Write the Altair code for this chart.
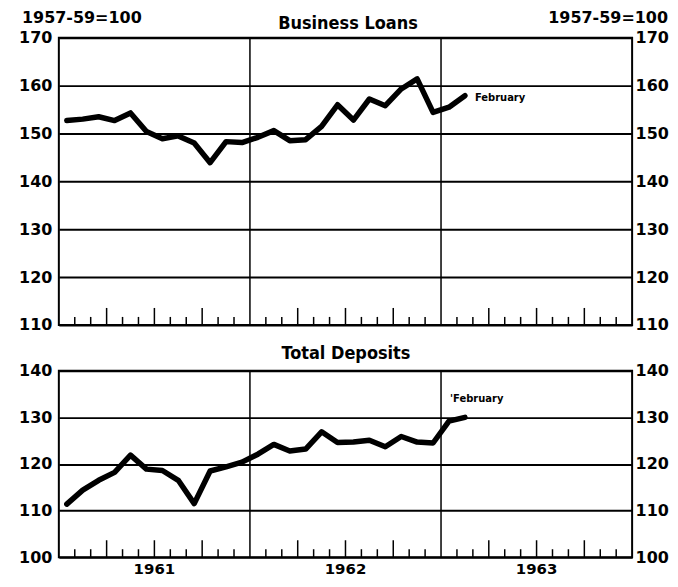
import altair as alt
import pandas as pd

# ---- data (monthly, Jan 1961 .. Feb 1963; index 1957-59 = 100) ----
month_index = list(range(26))
loans = [152.7, 153.0, 153.5, 152.7, 154.3, 150.4, 148.9, 149.5, 148.0, 143.9,
         148.3, 148.1, 149.2, 150.6, 148.5, 148.7, 151.5, 156.0, 152.8, 157.2,
         155.8, 159.3, 161.4, 154.4, 155.5, 157.9]
deposits = [111.4, 114.4, 116.5, 118.2, 121.9, 118.9, 118.6, 116.5, 111.5, 118.5,
            119.4, 120.4, 122.1, 124.2, 122.8, 123.2, 126.9, 124.6, 124.7, 125.1,
            123.7, 125.9, 124.7, 124.5, 129.2, 130.0]
loan_ticks = [110, 120, 130, 140, 150, 160, 170]
deposit_ticks = [100, 110, 120, 130, 140]
year_lines = [12, 24]
year_centers = [6, 18, 30]
year_names = ["1961", "1962", "1963"]
month_bounds = [k for k in range(1, 36) if k not in year_lines]
quarter_bounds = [k for k in month_bounds if k % 3 == 0]
plain_bounds = [k for k in month_bounds if k % 3 != 0]
base_label = ["1957-59=100"]
panel_titles = ["Business Loans", "Total Deposits"]
end_labels = ["February", "'February"]

W = 575
H1 = 288
H2 = 187
F = "DejaVu Sans"
TF = "DejaVu Sans Condensed"

xs = alt.Scale(domain=[0, 36], nice=False, zero=False)
X = alt.X("t:Q", scale=xs, axis=None)


def panel(values, ydom, yticks, H, title, title_x, title_y, end_label, ldx, ldy,
          headers, years):
    df = pd.DataFrame({"t": [m + 0.5 for m in month_index], "v": values})
    ys = alt.Scale(domain=ydom, nice=False, zero=False)
    common = dict(values=yticks, ticks=False, domain=False, labelFont=F,
                  labelFontSize=16, labelFontWeight="bold", labelColor="black",
                  title=None, labelBaseline="middle")
    line = alt.Chart(df).mark_line(
        color="black", strokeWidth=5.5, strokeJoin="round", strokeCap="round"
    ).encode(
        x=X,
        y=alt.Y("v:Q", scale=ys, axis=alt.Axis(
            orient="left", grid=True, gridColor="black", gridWidth=2,
            gridOpacity=1, labelPadding=7, **common)),
    )
    right = alt.Chart(df).mark_point(opacity=0).encode(
        x=X,
        y=alt.Y("v:Q", scale=ys, axis=alt.Axis(
            orient="right", grid=False, labelPadding=3, **common)),
    )
    vlines = alt.Chart(pd.DataFrame({"t": year_lines})).mark_rule(
        color="black", strokeWidth=1.5).encode(x=X)
    short_ticks = alt.Chart(pd.DataFrame({"t": plain_bounds})).mark_rule(
        color="black", strokeWidth=1.5).encode(
        x=X, y=alt.value(H), y2=alt.value(H - 8))
    tall_ticks = alt.Chart(pd.DataFrame({"t": quarter_bounds})).mark_rule(
        color="black", strokeWidth=1.5).encode(
        x=X, y=alt.value(H), y2=alt.value(H - 17))
    last = df.tail(1).assign(label=end_label)
    endlab = alt.Chart(last).mark_text(
        align="left", baseline="middle", dx=ldx, dy=ldy, font=F, fontSize=10,
        fontWeight="bold", color="black"
    ).encode(x=X, y=alt.Y("v:Q", scale=ys, axis=None), text="label:N")
    ttl = alt.Chart(pd.DataFrame({"label": [title]})).mark_text(
        x=title_x, y=title_y, align="center", baseline="alphabetic", font=TF,
        fontSize=18, fontWeight="bold", color="black").encode(text="label:N")
    layers = [vlines, short_ticks, tall_ticks, line, right, endlab, ttl]
    if headers:
        hl = alt.Chart(pd.DataFrame({"label": base_label})).mark_text(
            x=-37, y=-15, align="left", baseline="alphabetic", font=F,
            fontSize=16, fontWeight="bold", color="black").encode(text="label:N")
        hr = alt.Chart(pd.DataFrame({"label": base_label})).mark_text(
            x=W + 36, y=-15, align="right", baseline="alphabetic", font=F,
            fontSize=16, fontWeight="bold", color="black").encode(text="label:N")
        layers += [hl, hr]
    if years:
        yl = alt.Chart(pd.DataFrame({"t": year_centers, "label": year_names})).mark_text(
            baseline="middle", align="center", font=F, fontSize=15,
            fontWeight="bold", color="black"
        ).encode(x=X, y=alt.value(H + 12), text="label:N")
        layers.append(yl)
    return alt.layer(*layers).resolve_axis(y="independent").properties(
        width=W, height=H)


top = panel(loans, [110, 170], loan_ticks, H1, panel_titles[0], 290, -9,
            end_labels[0], 10, 2, True, False)
bottom = panel(deposits, [100, 140], deposit_ticks, H2, panel_titles[1], 288, -12,
               end_labels[1], -15, -18, False, True)

chart = alt.vconcat(top, bottom, spacing=46, bounds="flush").properties(
    padding={"left": 9, "top": 0, "right": 0, "bottom": 0},
    background="white",
).configure_view(stroke="black", strokeWidth=2)

chart.save("out.html", embed_options={"renderer": "svg", "actions": False})
